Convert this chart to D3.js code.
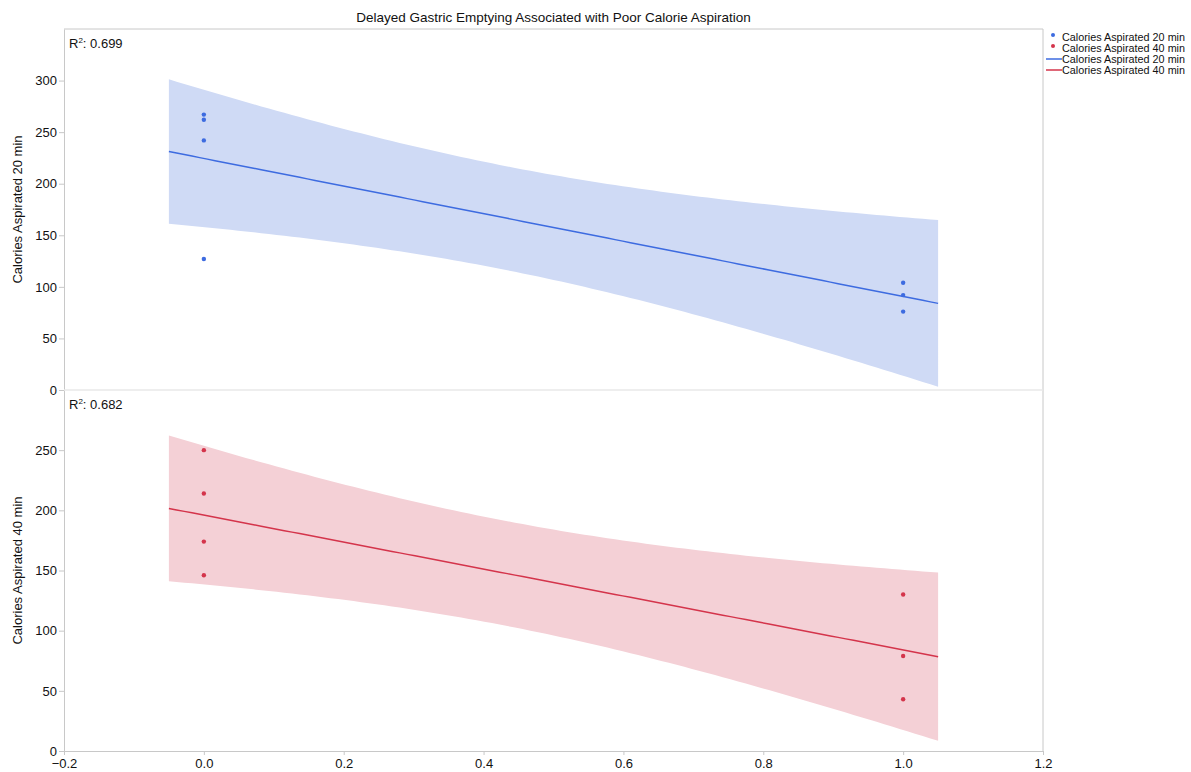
<!DOCTYPE html>
<html><head><meta charset="utf-8">
<script src="https://cdn.jsdelivr.net/npm/d3@7"></script>
<style>body{margin:0;background:#fff;font-family:"Liberation Sans",Arial,Helvetica,sans-serif;}</style>
</head><body>
<svg id="c" width="1191" height="772"></svg>
<script>
const title = "Delayed Gastric Emptying Associated with Poor Calorie Aspiration";
const x20 = [0, 0, 0, 0, 1, 1, 1];
const cal20 = [267, 262, 242, 127, 104, 92, 76];
const x40 = [0, 0, 0, 0, 1, 1, 1];
const cal40 = [250, 214, 174, 146, 130, 79, 43];
const r2Labels = ["0.699", "0.682"];
const xTicks = [-0.2, 0, 0.2, 0.4, 0.6, 0.8, 1.0, 1.2];
const yTicks20 = [0, 50, 100, 150, 200, 250, 300];
const yTicks40 = [0, 50, 100, 150, 200, 250];
const fitRange = [-0.05, 1.05];
const legendLabels = ["Calories Aspirated 20 min", "Calories Aspirated 40 min", "Calories Aspirated 20 min", "Calories Aspirated 40 min"];

const svg = d3.select("#c");
const L = 64, R = 1043, T = 29, MID = 390, B = 751;
const x = d3.scaleLinear().domain([-0.2, 1.2]).range([L, R]);

function fit(xs, ys) {
  const n = xs.length, mx = d3.mean(xs), my = d3.mean(ys);
  let sxx = 0, sxy = 0;
  xs.forEach((v, i) => { sxx += (v - mx) ** 2; sxy += (v - mx) * (ys[i] - my); });
  const b = sxy / sxx, a = my - b * mx;
  let sse = 0; xs.forEach((v, i) => { sse += (ys[i] - a - b * v) ** 2; });
  const s = Math.sqrt(sse / (n - 2));
  const t = 2.5706; // t(0.975, df=5)
  return { a, b, n, mx, sxx, s, t };
}

const panels = [
  { xs: x20, ys: cal20, dom: [0, 350], rng: [MID, T], ticks: yTicks20, color: "#3d6be0", band: "#cfdaf5", label: "Calories Aspirated 20 min", r2: r2Labels[0] },
  { xs: x40, ys: cal40, dom: [0, 300], rng: [B, MID], ticks: yTicks40, color: "#d4344b", band: "#f4d0d6", label: "Calories Aspirated 40 min", r2: r2Labels[1] }
];

panels.forEach((p, pi) => {
  const y = d3.scaleLinear().domain(p.dom).range(p.rng);
  const f = fit(p.xs, p.ys);
  const grid = d3.range(0, 101).map(i => fitRange[0] + (fitRange[1] - fitRange[0]) * i / 100);
  const bandData = grid.map(v => {
    const yh = f.a + f.b * v;
    const se = f.s * Math.sqrt(1 / f.n + (v - f.mx) ** 2 / f.sxx);
    return { v, lo: yh - f.t * se, hi: yh + f.t * se, yh };
  });
  svg.append("path").datum(bandData)
    .attr("d", d3.area().x(d => x(d.v)).y0(d => y(Math.max(d.lo, p.dom[0]))).y1(d => y(d.hi)))
    .attr("fill", p.band);
  svg.append("path").datum(bandData)
    .attr("d", d3.line().x(d => x(d.v)).y(d => y(d.yh)))
    .attr("fill", "none").attr("stroke", p.color).attr("stroke-width", 1.5);
  svg.selectAll(null).data(p.xs).enter().append("circle")
    .attr("cx", d => x(d)).attr("cy", (d, i) => y(p.ys[i])).attr("r", 2.2).attr("fill", p.color);

  const ax = svg.append("g").attr("transform", `translate(${L},0)`)
    .call(d3.axisLeft(y).tickValues(p.ticks).tickFormat(d3.format("d")).tickSize(5).tickSizeOuter(0));
  ax.select(".domain").attr("stroke", "#c8c8c8");
  ax.selectAll(".tick line").attr("stroke", "#c8c8c8");
  ax.selectAll(".tick text").attr("font-size", 13).attr("fill", "#111").attr("font-family", "Liberation Sans, Arial, sans-serif").attr("x", -7);

  svg.append("text").attr("transform", `translate(22,${(p.rng[0] + p.rng[1]) / 2}) rotate(-90)`)
    .attr("text-anchor", "middle").attr("font-size", 13).attr("fill", "#111").text(p.label);

  const rt = svg.append("text").attr("x", 69).attr("y", p.rng[1] + 19).attr("font-size", 13).attr("fill", "#111");
  rt.append("tspan").text("R");
  rt.append("tspan").attr("font-size", 8).attr("dy", -5).text("2");
  rt.append("tspan").attr("dy", 5).text(": " + p.r2);
});

// frame
svg.append("line").attr("x1", L).attr("x2", R).attr("y1", T).attr("y2", T).attr("stroke", "#c8c8c8");
svg.append("line").attr("x1", R).attr("x2", R).attr("y1", T).attr("y2", B).attr("stroke", "#c8c8c8");
svg.append("line").attr("x1", L).attr("x2", R).attr("y1", MID).attr("y2", MID).attr("stroke", "#e8e8e8").attr("stroke-width", 1.5);

const xa = svg.append("g").attr("transform", `translate(0,${B})`)
  .call(d3.axisBottom(x).tickValues(xTicks).tickFormat(d3.format(".1f")).tickSize(4).tickSizeOuter(0));
xa.select(".domain").attr("stroke", "#c8c8c8");
xa.selectAll(".tick line").attr("stroke", "#c8c8c8");
xa.selectAll(".tick text").attr("font-size", 13).attr("fill", "#111").attr("font-family", "Liberation Sans, Arial, sans-serif").attr("y", 8).attr("dy", "0.71em");

svg.append("text").attr("x", (L + R) / 2).attr("y", 22).attr("text-anchor", "middle")
  .attr("font-size", 13.5).attr("fill", "#111").text(title);

// legend
const lg = svg.append("g");
const legColors = [panels[0].color, panels[1].color, panels[0].color, panels[1].color];
legendLabels.forEach((t, i) => {
  const cy = 37 + i * 11;
  if (i < 2) lg.append("circle").attr("cx", 1053).attr("cy", cy - 2).attr("r", 2).attr("fill", legColors[i]);
  else lg.append("line").attr("x1", 1046).attr("x2", 1062).attr("y1", cy).attr("y2", cy).attr("stroke", legColors[i]).attr("stroke-width", 1.5);
  lg.append("text").attr("x", 1062).attr("y", cy + 3.5).attr("font-size", 10.8).attr("fill", "#111").text(t);
});
</script>
</body></html>
